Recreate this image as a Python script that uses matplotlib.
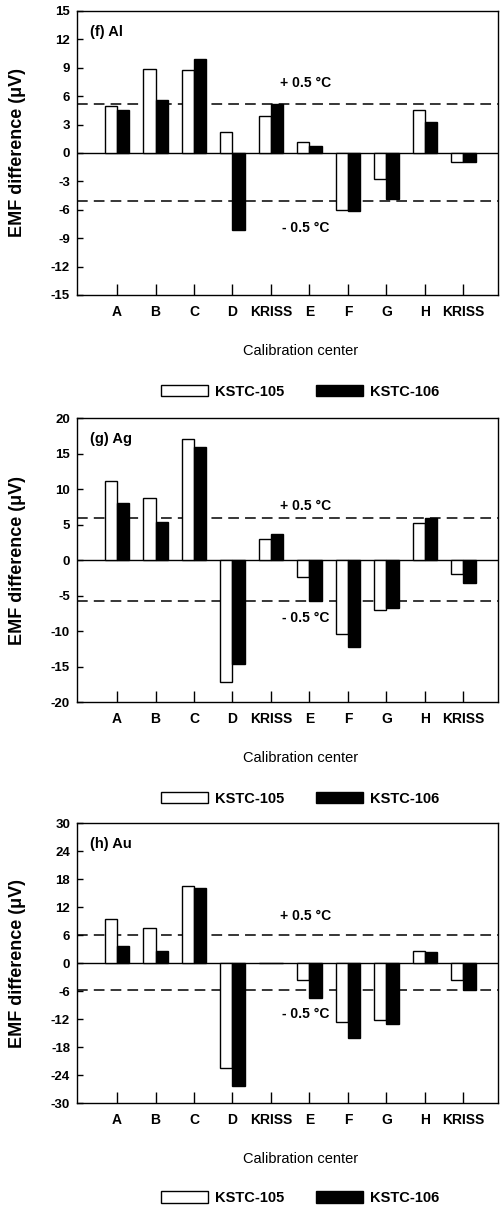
import matplotlib.pyplot as plt
import numpy as np

plt.rcParams['font.family'] = ['Liberation Sans', 'DejaVu Sans']
plt.rcParams['axes.unicode_minus'] = False

# -----------------------------
# Data
# -----------------------------
centers = ['A', 'B', 'C', 'D', 'KRISS', 'E', 'F', 'G', 'H', 'KRISS']

al_105 = [5.0, 8.9, 8.8, 2.25, 3.9, 1.2, -6.05, -2.7, 4.5, -1.0]
al_106 = [4.5, 5.6, 9.9, -8.1, 5.2, 0.75, -6.1, -4.85, 3.25, -1.0]

ag_105 = [11.15, 8.8, 17.1, -17.2, 3.0, -2.45, -10.45, -7.05, 5.25, -1.9]
ag_106 = [8.0, 5.3, 15.9, -14.6, 3.65, -5.75, -12.2, -6.7, 5.95, -3.2]

au_105 = [9.5, 7.5, 16.6, -22.4, 0.0, -3.6, -12.6, -12.3, 2.65, -3.7]
au_106 = [3.55, 2.5, 16.0, -26.3, 0.0, -7.5, -16.1, -13.1, 2.45, -5.8]

# limits of +/- 0.5 degC in uV
al_band = [5.2, -5.1]
ag_band = [5.9, -5.8]
au_band = [5.9, -5.7]

panels = [
    ('(f) Al', al_105, al_106, al_band, 15, 3, (7.4, -7.9)),
    ('(g) Ag', ag_105, ag_106, ag_band, 20, 5, (7.6, -8.2)),
    ('(h) Au', au_105, au_106, au_band, 30, 6, (10.0, -10.9)),
]

# axes boxes in figure fraction [left, bottom, width, height]
boxes = [
    [0.154, 0.7552, 0.842, 0.2357],
    [0.154, 0.4174, 0.842, 0.2357],
    [0.154, 0.0846, 0.842, 0.2324],
]

fig = plt.figure(figsize=(5, 12.05), dpi=100)

x = np.arange(len(centers))
w = 0.32

for (label, s105, s106, band, lim, step, txt_y), box in zip(panels, boxes):
    ax = fig.add_axes(box)
    # dashed +/- 0.5 degC lines behind the bars
    for yb in band:
        ax.axhline(yb, color='black', linestyle=(0, (7, 4)), linewidth=1.1, zorder=1)
    ax.axhline(0, color='black', linewidth=1.0, zorder=1)
    b1 = ax.bar(x - w / 2, s105, width=w, color='white', edgecolor='black',
                linewidth=1.0, zorder=2, label='KSTC-105')
    b2 = ax.bar(x + w / 2, s106, width=w, color='black', edgecolor='black',
                linewidth=1.0, zorder=2, label='KSTC-106')

    ax.text(4.9, txt_y[0], '+ 0.5 \u00b0C', ha='center', va='center',
            fontsize=10, fontweight='bold')
    ax.text(4.9, txt_y[1], '- 0.5 \u00b0C', ha='center', va='center',
            fontsize=10, fontweight='bold')
    ax.text(0.03, 0.925, label, transform=ax.transAxes, ha='left', va='center',
            fontsize=10.5, fontweight='bold')

    ax.set_xlim(-1.04, 9.9)
    ax.set_ylim(-lim, lim)
    ax.set_yticks(np.arange(-lim, lim + 0.1, step))
    ax.set_xticks(x)
    ax.set_xticklabels(centers)
    ax.tick_params(axis='x', direction='in', length=8, width=1, pad=7,
                   top=False, labelsize=10)
    ax.tick_params(axis='y', direction='in', length=4, width=1, right=False,
                   labelsize=9.5, pad=5)
    for t in ax.get_xticklabels() + ax.get_yticklabels():
        t.set_fontweight('bold')
    for sp in ax.spines.values():
        sp.set_linewidth(1.0)

    ax.set_ylabel('EMF difference (\u03bcV)', fontsize=13, fontweight='bold')
    ax.yaxis.set_label_coords(-0.12, 0.5)
    ax.set_xlabel('Calibration center', fontsize=10.5)
    ax.xaxis.set_label_coords(0.53, -0.173)

    ax.legend(handles=[b1, b2], loc='center', bbox_to_anchor=(0.53, -0.34),
              ncol=2, frameon=False, handlelength=3.2, handleheight=0.85,
              columnspacing=2.2, handletextpad=0.5,
              prop={'size': 10.5, 'weight': 'bold'})

plt.savefig('out.png', dpi=100)
